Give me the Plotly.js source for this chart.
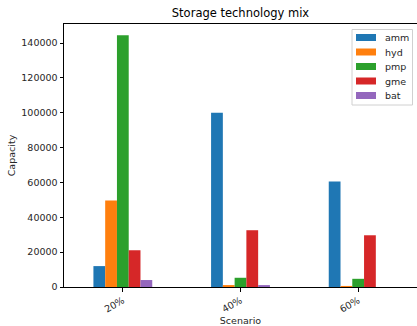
<!DOCTYPE html>
<html>
<head>
<meta charset="utf-8">
<script src="https://cdn.plot.ly/plotly-3.0.1.min.js"></script>
<style>html,body{margin:0;padding:0;background:#fff;}#chart{width:417px;height:326px;}</style>
</head>
<body>
<div id="chart"></div>
<script>
const scenarios = ["20%", "40%", "60%"];
const seriesNames = ["amm", "hyd", "pmp", "gme", "bat"];
const amm = [12000, 100000, 60600];
const hyd = [49700, 1100, 600];
const pmp = [144600, 5300, 4700];
const gme = [21100, 32600, 29700];
const bat = [4000, 1100, 0];
const colors = ["#1f77b4", "#ff7f0e", "#2ca02c", "#d62728", "#9467bd"];
const values = [amm, hyd, pmp, gme, bat];

const traces = seriesNames.map((n, i) => ({
  type: "bar",
  name: n,
  x: scenarios,
  y: values[i],
  marker: {color: colors[i], line: {width: 0}},
  hoverinfo: "skip",
  showlegend: false
}));

// plot area geometry (pixels)
const L = 64, R = 0, T = 24, B = 39, W = 417, H = 326;
const pw = W - L - R, ph = H - T - B;
const px = X => (X - L) / pw;
const py = Y => (H - B - Y) / ph;

// custom matplotlib-like legend
const shapes = [{
  type: "rect", xref: "paper", yref: "paper",
  x0: px(352), x1: px(412.5), y0: py(105), y1: py(29.5),
  line: {color: "#d0d0d0", width: 1}, fillcolor: "rgba(255,255,255,0.8)", layer: "above"
}];
const annotations = [];
seriesNames.forEach((n, i) => {
  const cy = 37.5 + i * 14.5;
  shapes.push({
    type: "rect", xref: "paper", yref: "paper",
    x0: px(356), x1: px(376), y0: py(cy + 3.5), y1: py(cy - 3.5),
    line: {width: 0}, fillcolor: colors[i], layer: "above"
  });
  annotations.push({
    xref: "paper", yref: "paper", x: px(383), y: py(cy),
    xanchor: "left", yanchor: "middle", showarrow: false,
    text: n, font: {size: 9.5, color: "#262626"}
  });
});

const font = {family: "DejaVu Sans, sans-serif", color: "#262626", size: 9.5};
const layout = {
  width: W, height: H,
  margin: {l: L, r: R, t: T, b: B},
  paper_bgcolor: "#fff", plot_bgcolor: "#fff",
  font: font,
  barmode: "group",
  bargap: 0.5,
  bargroupgap: 0,
  showlegend: false,
  shapes: shapes,
  annotations: annotations,
  title: {text: "Storage technology mix", font: {family: "DejaVu Sans, sans-serif", size: 11.5, color: "#000"}, x: 0.5, xref: "paper", y: 1, yref: "container", yanchor: "top", pad: {t: 9}},
  xaxis: {
    type: "category", range: [-0.5, 2.5],
    showline: true, linecolor: "#000", linewidth: 1, mirror: true,
    ticks: "outside", ticklen: 3.5, tickcolor: "#000",
    tickangle: -30, showgrid: false, zeroline: false,
    tickfont: {size: 9.5, color: "#262626"},
    title: {text: "Scenario", font: {size: 9.5, color: "#262626"}, standoff: 4}
  },
  yaxis: {
    range: [0, 151000],
    tickvals: [0, 20000, 40000, 60000, 80000, 100000, 120000, 140000],
    ticktext: ["0", "20000", "40000", "60000", "80000", "100000", "120000", "140000"],
    showline: true, linecolor: "#000", linewidth: 1, mirror: true,
    ticks: "outside", ticklen: 3.5, tickcolor: "#000",
    showgrid: false, zeroline: false,
    tickfont: {size: 9.5, color: "#262626"},
    title: {text: "Capacity", font: {size: 9.5, color: "#262626"}, standoff: 4}
  }
};

Plotly.newPlot("chart", traces, layout, {displayModeBar: false, staticPlot: true});
</script>
</body>
</html>
